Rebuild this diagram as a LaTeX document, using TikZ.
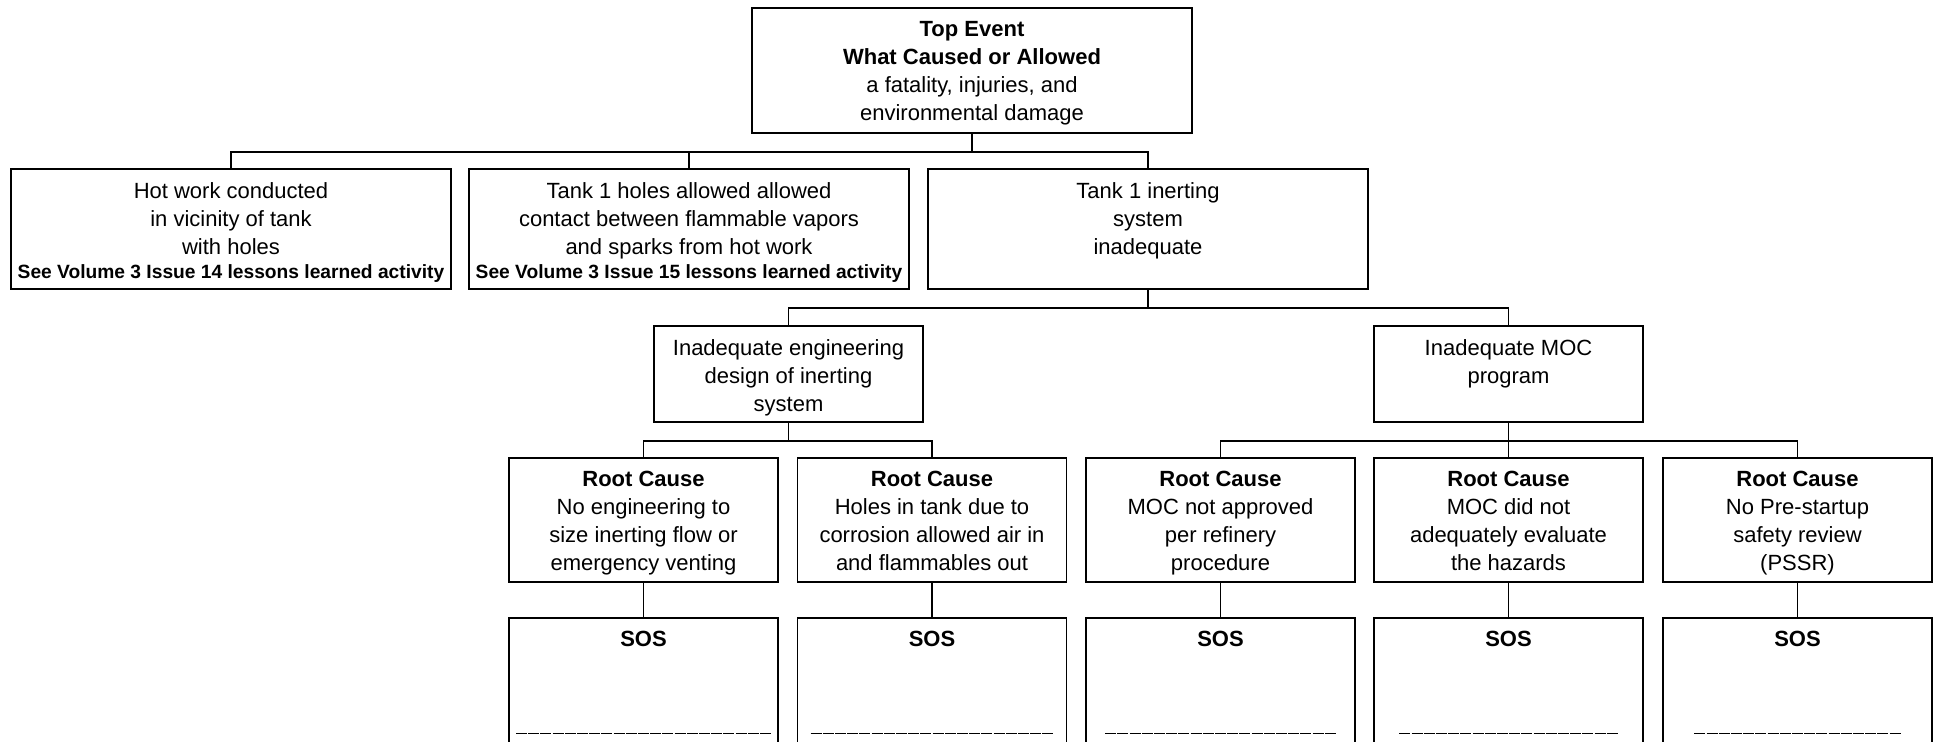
\documentclass[tikz,border=0pt]{standalone}
\usepackage{fontspec}
\setmainfont{Liberation Sans}
\newcommand{\seeline}[1]{{\fontsize{9.6}{12}\selectfont\bfseries #1}}
\newcommand{\us}{\kern0.3pt\rule[-2.1pt]{5.5pt}{0.7pt}\kern0.3pt}
\newcommand{\uline}[1]{\foreach \k in {1,...,#1}{\us}}
\begin{document}
\begin{tikzpicture}[x=0.5pt,y=-0.5pt,
  box/.style={draw=black, line width=0.8pt, rectangle, inner sep=0pt},
  wide/.style={box, minimum width=220pt, minimum height=60pt},
  mid/.style={box, minimum width=134.5pt, minimum height=48pt},
  root/.style={box, minimum width=134.5pt, minimum height=62pt},
  sos/.style={box, minimum width=134.5pt, minimum height=76pt},
  lbl/.style={anchor=north, align=center, inner sep=0pt, yshift=-7pt,
    font=\fontsize{11}{14}\selectfont, execute at begin node=\strut},
  tx/.style={label={[lbl]north:{#1}}},
  conn/.style={draw=black, line width=0.8pt},
]
\useasboundingbox (0,0) rectangle (1937,742);
\clip (0,0) rectangle (1937,742);

% top event
\node[box, minimum width=220pt, minimum height=62.5pt,
  tx={\textbf{Top Event}\\\textbf{What Caused or Allowed}\\a fatality, injuries, and\\environmental damage}] (top) at (972,70.5) {};

% level 2
\node[wide, tx={Hot work conducted\\in vicinity of tank\\with holes\\[-2pt]\seeline{See Volume 3 Issue 14 lessons learned activity}}] (A) at (231,229) {};
\node[wide, tx={Tank 1 holes allowed allowed\\contact between flammable vapors\\and sparks from hot work\\[-2pt]\seeline{See Volume 3 Issue 15 lessons learned activity}}] (B) at (689,229) {};
\node[wide, tx={Tank 1 inerting\\system\\inadequate}] (C) at (1148,229) {};

% level 3
\node[mid, tx={Inadequate engineering\\design of inerting\\system}] (D) at (788.5,374) {};
\node[mid, tx={Inadequate MOC\\program}] (E) at (1508.5,374) {};

% root causes
\node[root, tx={\textbf{Root Cause}\\No engineering to\\size inerting flow or\\emergency venting}] (F) at (643.5,520) {};
\node[root, tx={\textbf{Root Cause}\\Holes in tank due to\\corrosion allowed air in\\and flammables out}] (G) at (932,520) {};
\node[root, tx={\textbf{Root Cause}\\MOC not approved\\per refinery\\procedure}] (H) at (1220.5,520) {};
\node[root, tx={\textbf{Root Cause}\\MOC did not\\adequately evaluate\\the hazards}] (I) at (1508.5,520) {};
\node[root, tx={\textbf{Root Cause}\\No Pre-startup\\safety review\\(PSSR)}] (J) at (1797.5,520) {};

% SOS boxes
\node[sos, tx={\textbf{SOS}\\[27.5pt]\uline{21}}] (Fs) at (643.5,694) {};
\node[sos, tx={\textbf{SOS}\\[27.5pt]\uline{20}}] (Gs) at (932,694) {};
\node[sos, tx={\textbf{SOS}\\[27.5pt]\uline{19}}] (Hs) at (1220.5,694) {};
\node[sos, tx={\textbf{SOS}\\[27.5pt]\uline{18}}] (Is) at (1508.5,694) {};
\node[sos, tx={\textbf{SOS}\\[27.5pt]\uline{17}}] (Js) at (1797.5,694) {};

% connectors
\draw[conn] (top.south) -- ++(0,18) -| (A.north);
\draw[conn] (top.south) -- ++(0,18) -| (B.north);
\draw[conn] (top.south) -- ++(0,18) -| (C.north);
\draw[conn] (C.south) -- ++(0,18) -| (D.north);
\draw[conn] (C.south) -- ++(0,18) -| (E.north);
\draw[conn] (D.south) -- ++(0,18) -| (F.north);
\draw[conn] (D.south) -- ++(0,18) -| (G.north);
\draw[conn] (E.south) -- ++(0,18) -| (H.north);
\draw[conn] (E.south) -- ++(0,18) -| (I.north);
\draw[conn] (E.south) -- ++(0,18) -| (J.north);
\draw[conn] (F.south) -- (Fs.north);
\draw[conn] (G.south) -- (Gs.north);
\draw[conn] (H.south) -- (Hs.north);
\draw[conn] (I.south) -- (Is.north);
\draw[conn] (J.south) -- (Js.north);
\end{tikzpicture}
\end{document}
